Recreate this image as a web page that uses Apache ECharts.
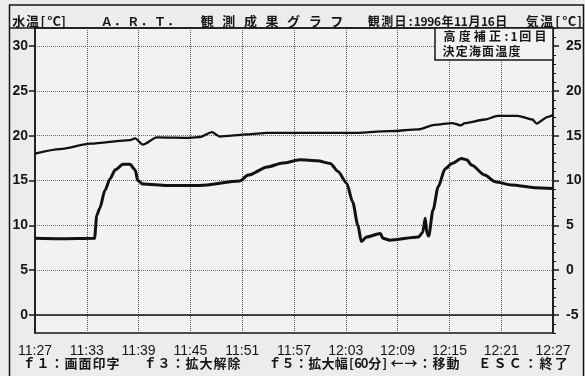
<!DOCTYPE html>
<html><head><meta charset="utf-8">
<script src="https://cdn.jsdelivr.net/npm/echarts@6/dist/echarts.min.js"></script>
<style>html,body{margin:0;padding:0;background:#ececec}#c{width:585px;height:376px}</style>
</head><body><div id="c"></div>
<script>
// ---- data ----
const timeTickValues = [0, 6, 12, 18, 24, 30, 36, 42, 48, 54, 60];
const timeTickLabels = ['11:27','11:33','11:39','11:45','11:51','11:57','12:03','12:09','12:15','12:21','12:27'];
const waterTickValues = [0, 5, 10, 15, 20, 25, 30];
const airTickValues = [-5, 0, 5, 10, 15, 20, 25];
const airMinorTickValues = [-7,-6,-4,-3,-2,-1,1,2,3,4,6,7,8,9,11,12,13,14,16,17,18,19,21,22,23,24,26,27];

// minutes after 11:27
const waterTimes = [0, 2.9, 6.9, 7.15, 7.5, 8.1, 8.7, 9.3, 10.2, 11.0, 11.6, 11.9, 12.5, 15.3, 19.1, 23.7, 24.7, 26.9, 28.7, 30.7, 32.7, 34.2, 35.1, 36.1, 36.8, 37.4, 37.8, 38.4, 40.0, 40.3, 41.1, 44.4, 44.9, 45.2, 45.4, 45.6, 46.1, 46.7, 47.5, 48.3, 49.4, 50.0, 50.6, 52.1, 53.3, 55.2, 57.9, 60];
const waterTemp  = [8.55, 8.5, 8.55, 11.1, 11.9, 13.9, 15.2, 16.2, 16.8, 16.8, 16.2, 15.0, 14.6, 14.45, 14.45, 14.95, 15.6, 16.5, 16.95, 17.3, 17.2, 16.9, 16.0, 14.7, 12.6, 10.0, 8.2, 8.7, 9.1, 8.55, 8.35, 8.7, 9.2, 10.8, 9.1, 8.8, 11.7, 14.3, 16.3, 16.9, 17.45, 17.3, 16.7, 15.6, 14.85, 14.5, 14.2, 14.1];

const airTimes = [0, 2.9, 6.4, 11.0, 11.6, 12.5, 14.1, 18.0, 19.1, 20.5, 21.4, 24.6, 26.9, 30.7, 36.5, 41.1, 44.4, 46.3, 48.3, 49.3, 49.8, 52.1, 53.6, 55.9, 57.6, 58.1, 59.4, 60];
const airTemp  = [13.0, 13.5, 14.1, 14.5, 14.7, 14.0, 14.8, 14.75, 14.85, 15.4, 14.9, 15.15, 15.3, 15.3, 15.3, 15.5, 15.7, 16.2, 16.4, 16.15, 16.4, 16.8, 17.2, 17.2, 16.8, 16.35, 17.1, 17.3];

// ---- text layout helper (fixed-pitch screen font) ----
const INK = '#161616';
const CJK = "'Noto Sans CJK JP', 'Noto Sans', sans-serif";
const NUM = "'Liberation Sans Narrow', 'Liberation Sans', sans-serif";
const texts = [];
function mono(str, x0, x1, y, size, weight) {
  const chars = Array.from(str);
  const units = chars.map(c => /[\u0000-\u00ff]/.test(c) ? 1 : 2);
  const total = units.reduce((a, b) => a + b, 0);
  const pitch = (x1 - x0) / total;
  let x = x0;
  chars.forEach((c, i) => {
    if (c !== ' ') {
      texts.push({
        type: 'text', z: 20,
        x: x + units[i] * pitch / 2, y: y,
        style: { text: c, fill: INK, fontSize: size, fontFamily: CJK, fontWeight: weight || 'bold',
                 align: 'center', verticalAlign: 'middle', textAlign: 'center', textVerticalAlign: 'middle' }
      });
    }
    x += units[i] * pitch;
  });
}
// title row
mono('水温[°C]', 12, 67, 21.5, 13);
mono('Ａ．Ｒ．Ｔ．', 100, 180, 21.5, 12);
mono('観 測 成 果 グ ラ フ', 200, 344, 21.5, 13);
mono('観測日:1996年11月16日', 367, 508, 21.5, 12);
mono('気温[°C]', 525, 583, 21.5, 13);
// info box
mono('高度補正:1回目', 442, 548, 36.5, 12);
mono('決定海面温度', 442, 521, 51, 12);
// footer
mono('ｆ１：画面印字', 22, 120, 363, 13);
mono('ｆ３：拡大解除', 143, 241, 363, 13);
mono('ｆ５：拡大幅[60分]', 268, 388, 363, 13);
mono('←→：移動', 390, 460, 363, 13);
mono('ＥＳＣ：終了', 477, 569, 363, 13);

const chart = echarts.init(document.getElementById('c'), null, { renderer: 'canvas' });
chart.setOption({
  backgroundColor: '#ececec',
  animation: false,
  grid: { left: 35, right: 32, top: 28, bottom: 43, show: true, backgroundColor: '#f2f2f2', borderColor: INK, borderWidth: 1.5 },
  xAxis: {
    type: 'value', min: 0, max: 60, interval: 6,
    axisLine: { show: true, lineStyle: { color: INK, width: 1.5 } },
    axisTick: { show: false },
    axisLabel: { margin: 11, fontSize: 14, fontFamily: NUM, color: INK,
      formatter: v => timeTickLabels[timeTickValues.indexOf(v)] || '' },
    splitLine: { show: true, lineStyle: { type: 'dotted', color: '#555', width: 1 } }
  },
  yAxis: [
    { type: 'value', position: 'left', min: -2, max: 32,
      axisLine: { show: true, lineStyle: { color: INK, width: 1.5 } },
      axisTick: { show: true, customValues: waterTickValues, length: 6, lineStyle: { color: INK, width: 1.5 } },
      axisLabel: { customValues: waterTickValues, margin: 7, fontSize: 14, fontFamily: NUM, fontWeight: 'bold', color: INK },
      splitLine: { show: true, lineStyle: { type: 'dotted', color: '#666', width: 1 } } },
    { type: 'value', position: 'right', min: -7, max: 27, offset: 0,
      axisLine: { show: true, lineStyle: { color: INK, width: 1.5 } },
      axisTick: { show: true, customValues: airTickValues, length: 6, lineStyle: { color: INK, width: 1.5 } },
      axisLabel: { customValues: airTickValues, margin: 13, fontSize: 14, fontFamily: NUM, fontWeight: 'bold', color: INK },
      splitLine: { show: false } },
    { type: 'value', position: 'right', min: -7, max: 27, offset: 0,
      axisLine: { show: false },
      axisTick: { show: true, customValues: airMinorTickValues, length: 3, lineStyle: { color: INK, width: 1 } },
      axisLabel: { show: false },
      splitLine: { show: false } }
  ],
  series: [
    { name: '水温', type: 'line', yAxisIndex: 0, showSymbol: false, silent: true,
      smooth: 0.25, smoothMonotone: 'x',
      lineStyle: { color: '#111', width: 3 },
      data: waterTimes.map((t, i) => [t, waterTemp[i]]) },
    { name: '気温', type: 'line', yAxisIndex: 1, showSymbol: false, silent: true,
      smooth: 0.25, smoothMonotone: 'x',
      lineStyle: { color: '#111', width: 2.3 },
      data: airTimes.map((t, i) => [t, airTemp[i]]) }
  ],
  graphic: [
    { type: 'rect', z: 15, shape: { x: 9.5, y: 5, width: 574, height: 380 },
      style: { fill: null, stroke: INK, lineWidth: 1.5 } },
    { type: 'line', z: 15, shape: { x1: 9.5, y1: 28, x2: 584, y2: 28 },
      style: { stroke: INK, lineWidth: 1.5 } },
    { type: 'rect', z: 15, shape: { x: 435, y: 28, width: 118, height: 32 },
      style: { fill: '#f2f2f2', stroke: INK, lineWidth: 1.5 } }
  ].concat(texts)
});
</script>
</body></html>
